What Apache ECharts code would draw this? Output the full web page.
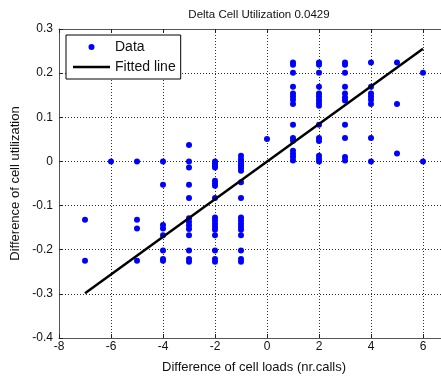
<!DOCTYPE html>
<html>
<head>
<meta charset="utf-8">
<script src="https://cdn.jsdelivr.net/npm/echarts@6/dist/echarts.min.js"></script>
<style>html,body{margin:0;padding:0;background:#fff}#c{width:441px;height:377px}</style>
</head>
<body>
<div id="c"></div>
<script>
// Columns of x (difference of cell loads) with their y values (difference of utilization)
const colX = [-7, -6, -5, -4, -3, -2, -1, 0, 1, 2, 3, 4, 5, 6];
const colY = [
  [-0.132, -0.225],
  [0],
  [0, -0.132, -0.152, -0.225],
  [0, -0.053, -0.144, -0.152, -0.167, -0.202, -0.221, -0.225],
  [0.037, 0, -0.014, -0.053, -0.083, -0.129, -0.137, -0.145, -0.153, -0.167, -0.202, -0.221, -0.227],
  [0, -0.005, -0.01, -0.014, -0.044, -0.05, -0.055, -0.083, -0.127, -0.134, -0.141, -0.148, -0.155, -0.167, -0.202, -0.221, -0.227],
  [0.013, 0.005, 0, -0.005, -0.01, -0.015, -0.021, -0.047, -0.083, -0.127, -0.134, -0.141, -0.148, -0.155, -0.167, -0.202, -0.221, -0.227],
  [0.051],
  [0.224, 0.219, 0.201, 0.169, 0.154, 0.147, 0.14, 0.13, 0.083, 0.053, 0.047, 0.024, 0.017, 0.01, 0.002],
  [0.224, 0.219, 0.201, 0.169, 0.154, 0.147, 0.14, 0.133, 0.126, 0.083, 0.053, 0.046, 0.013, 0.006, 0],
  [0.224, 0.219, 0.201, 0.169, 0.154, 0.145, 0.138, 0.083, 0.053, 0.01, 0.002],
  [0.224, 0.169, 0.154, 0.147, 0.14, 0.13, 0.053, 0],
  [0.224, 0.13, 0.018],
  [0.201, 0]
];
const fitX = [-7, 6];
const fitY = [-0.2985, 0.2555];
const titleText = 'Delta Cell Utilization 0.0429';
const xName = 'Difference of cell loads (nr.calls)';
const yName = 'Difference of cell utilization';

const scatterData = [];
colX.forEach((x, i) => colY[i].forEach(y => scatterData.push([x, y])));
const fitData = fitX.map((x, i) => [x, fitY[i]]);

const font = 'Liberation Sans, Arial, Helvetica, sans-serif';
const gridDot = { show: true, lineStyle: { color: '#333', width: 1, type: [1, 2] } };

const chart = echarts.init(document.getElementById('c'), null, { renderer: 'canvas' });
chart.setOption({
  animation: false,
  backgroundColor: '#fff',
  title: {
    text: titleText, left: 254, top: 4, textAlign: 'center',
    textStyle: { fontFamily: font, fontSize: 11.5, fontWeight: 'normal', color: '#111' }
  },
  legend: {
    orient: 'vertical', left: 66, top: 35,
    padding: [5, 5, 5, 7], itemGap: 6, itemWidth: 37, itemHeight: 6, itemTextGap: 2,
    backgroundColor: '#fff', borderColor: '#000', borderWidth: 1,
    textStyle: { fontFamily: font, fontSize: 14, color: '#111' },
    data: [
      { name: 'Data', icon: 'circle' },
      { name: 'Fitted line', icon: 'path://M0,0H37V2.5H0Z', itemStyle: { color: '#000' } }
    ]
  },
  grid: { left: 59, width: 390, top: 29, bottom: 39, containLabel: false, outerBoundsMode: 'none' },
  xAxis: [{
    type: 'value', min: -8, max: 7, interval: 2, position: 'bottom',
    name: xName, nameLocation: 'middle', nameGap: 23,
    nameTextStyle: { fontFamily: font, fontSize: 13, color: '#111' },
    axisLine: { show: true, onZero: false, lineStyle: { color: '#555', width: 1 } },
    axisTick: { show: true, inside: true, length: 4, lineStyle: { color: '#222' } },
    axisLabel: { fontFamily: font, fontSize: 12, color: '#111', margin: 3, showMaxLabel: false },
    splitLine: gridDot
  }, {
    type: 'value', min: -8, max: 7, interval: 2, position: 'top',
    axisLine: { show: true, onZero: false, lineStyle: { color: '#555', width: 1 } },
    axisTick: { show: true, inside: true, length: 4, lineStyle: { color: '#222' } },
    axisLabel: { show: false }, splitLine: { show: false }
  }],
  yAxis: [{
    type: 'value', min: -0.4, max: 0.3, interval: 0.1,
    name: yName, nameLocation: 'middle', nameGap: 33,
    nameTextStyle: { fontFamily: font, fontSize: 13, color: '#111' },
    axisLine: { show: true, onZero: false, lineStyle: { color: '#555', width: 1 } },
    axisTick: { show: true, inside: true, length: 4, lineStyle: { color: '#222' } },
    axisLabel: { fontFamily: font, fontSize: 12, color: '#111', margin: 6,
      formatter: v => String(Math.round(v * 10) / 10) },
    splitLine: gridDot
  }],
  series: [{
    name: 'Data', type: 'scatter', data: scatterData, symbol: 'circle', symbolSize: 6,
    itemStyle: { color: '#0000ff', opacity: 1 }, z: 2
  }, {
    name: 'Fitted line', type: 'line', data: fitData, symbol: 'none', showSymbol: false,
    lineStyle: { color: '#000', width: 2.5 }, itemStyle: { color: '#000' }, z: 3
  }]
});
</script>
</body>
</html>
